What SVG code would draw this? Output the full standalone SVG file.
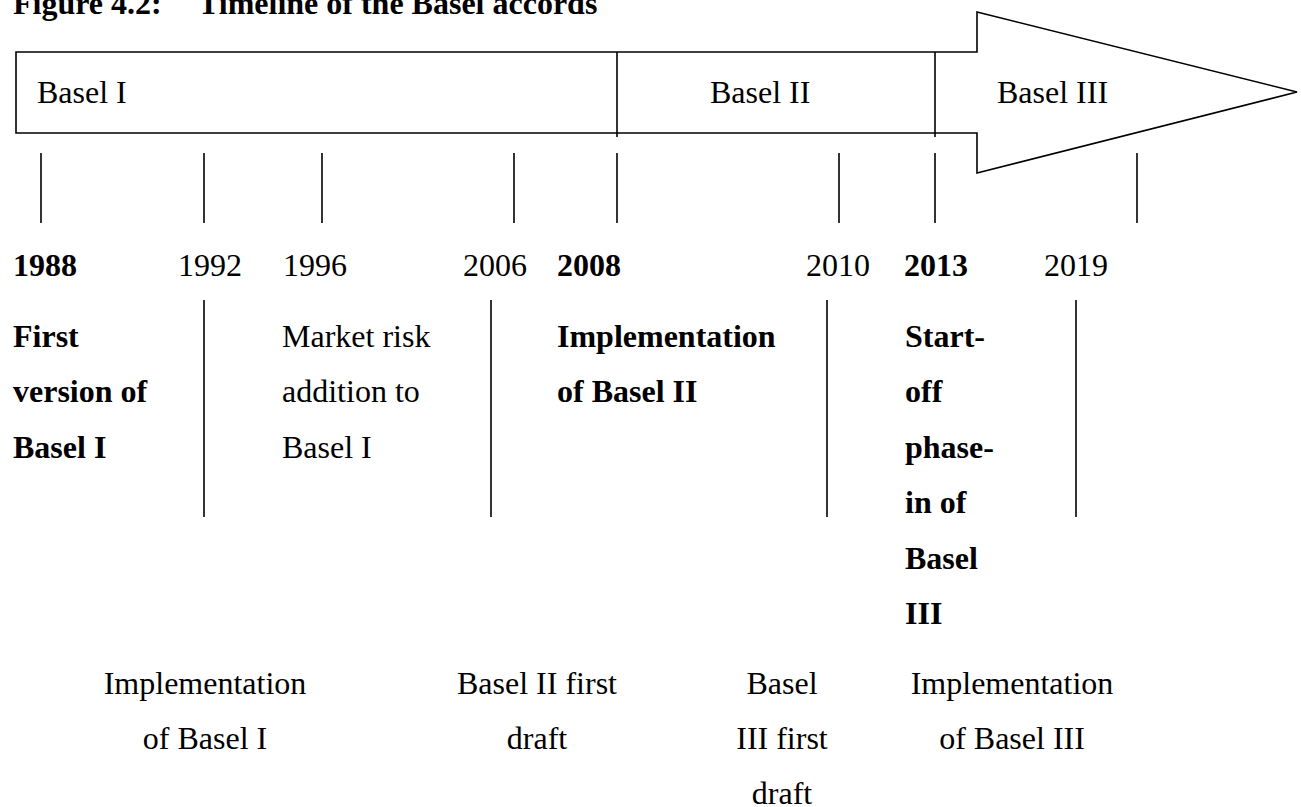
<svg xmlns="http://www.w3.org/2000/svg" width="1301" height="807" viewBox="0 0 1301 807">
<style>
text{font-family:"Liberation Serif","Times New Roman",serif;font-size:32px;fill:#000}
.b{font-weight:bold}
.c{text-anchor:middle}
.ln{stroke:#000;stroke-width:1.6;fill:none}
</style>
<rect width="1301" height="807" fill="#fff"/>
<text id="title" class="b" x="13" y="14">Figure 4.2:<tspan x="198">Timeline of the Basel accords</tspan></text>
<g id="timeline-bar">
<path class="ln" d="M16,52 H977 V12 L1297,92 L977,173 V133 H16 Z" fill="#fff"/>
<line class="ln" x1="617" y1="52" x2="617" y2="137"/>
<line class="ln" x1="935" y1="52" x2="935" y2="137"/>
</g>
<g id="era-basel1"><text x="37" y="103">Basel I</text></g>
<g id="era-basel2"><text x="710" y="103">Basel II</text></g>
<g id="era-basel3"><text x="997" y="103">Basel III</text></g>
<g id="connectors">
<line class="ln" x1="41" y1="153" x2="41" y2="223"/>
<line class="ln" x1="204" y1="153" x2="204" y2="223"/>
<line class="ln" x1="322" y1="153" x2="322" y2="223"/>
<line class="ln" x1="514" y1="153" x2="514" y2="223"/>
<line class="ln" x1="617" y1="153" x2="617" y2="223"/>
<line class="ln" x1="839" y1="153" x2="839" y2="223"/>
<line class="ln" x1="935" y1="153" x2="935" y2="223"/>
<line class="ln" x1="1137" y1="153" x2="1137" y2="223"/>
<line class="ln" x1="204" y1="300" x2="204" y2="517"/>
<line class="ln" x1="491" y1="300" x2="491" y2="517"/>
<line class="ln" x1="827" y1="300" x2="827" y2="517"/>
<line class="ln" x1="1076" y1="300" x2="1076" y2="517"/>
</g>
<g id="y1988">
<text class="b" x="13" y="276">1988</text>
<text class="b" x="13" y="347">First</text>
<text class="b" x="13" y="402">version of</text>
<text class="b" x="13" y="458">Basel I</text>
</g>
<g id="y1992">
<text x="178" y="276">1992</text>
<text class="c" x="205" y="694">Implementation</text>
<text class="c" x="205" y="749">of Basel I</text>
</g>
<g id="y1996">
<text x="283" y="276">1996</text>
<text x="282" y="347">Market risk</text>
<text x="282" y="402">addition to</text>
<text x="282" y="458">Basel I</text>
</g>
<g id="y2006">
<text x="463" y="276">2006</text>
<text class="c" x="537" y="694">Basel II first</text>
<text class="c" x="537" y="749">draft</text>
</g>
<g id="y2008">
<text class="b" x="557" y="276">2008</text>
<text class="b" x="557" y="347">Implementation</text>
<text class="b" x="557" y="402">of Basel II</text>
</g>
<g id="y2010">
<text x="806" y="276">2010</text>
<text class="c" x="782" y="694">Basel</text>
<text class="c" x="782" y="749">III first</text>
<text class="c" x="782" y="804">draft</text>
</g>
<g id="y2013">
<text class="b" x="904" y="276">2013</text>
<text class="b" x="905" y="347">Start-</text>
<text class="b" x="905" y="402">off</text>
<text class="b" x="905" y="458">phase-</text>
<text class="b" x="905" y="513">in of</text>
<text class="b" x="905" y="569">Basel</text>
<text class="b" x="905" y="624">III</text>
</g>
<g id="y2019">
<text x="1044" y="276">2019</text>
<text class="c" x="1012" y="694">Implementation</text>
<text class="c" x="1012" y="749">of Basel III</text>
</g>
</svg>
